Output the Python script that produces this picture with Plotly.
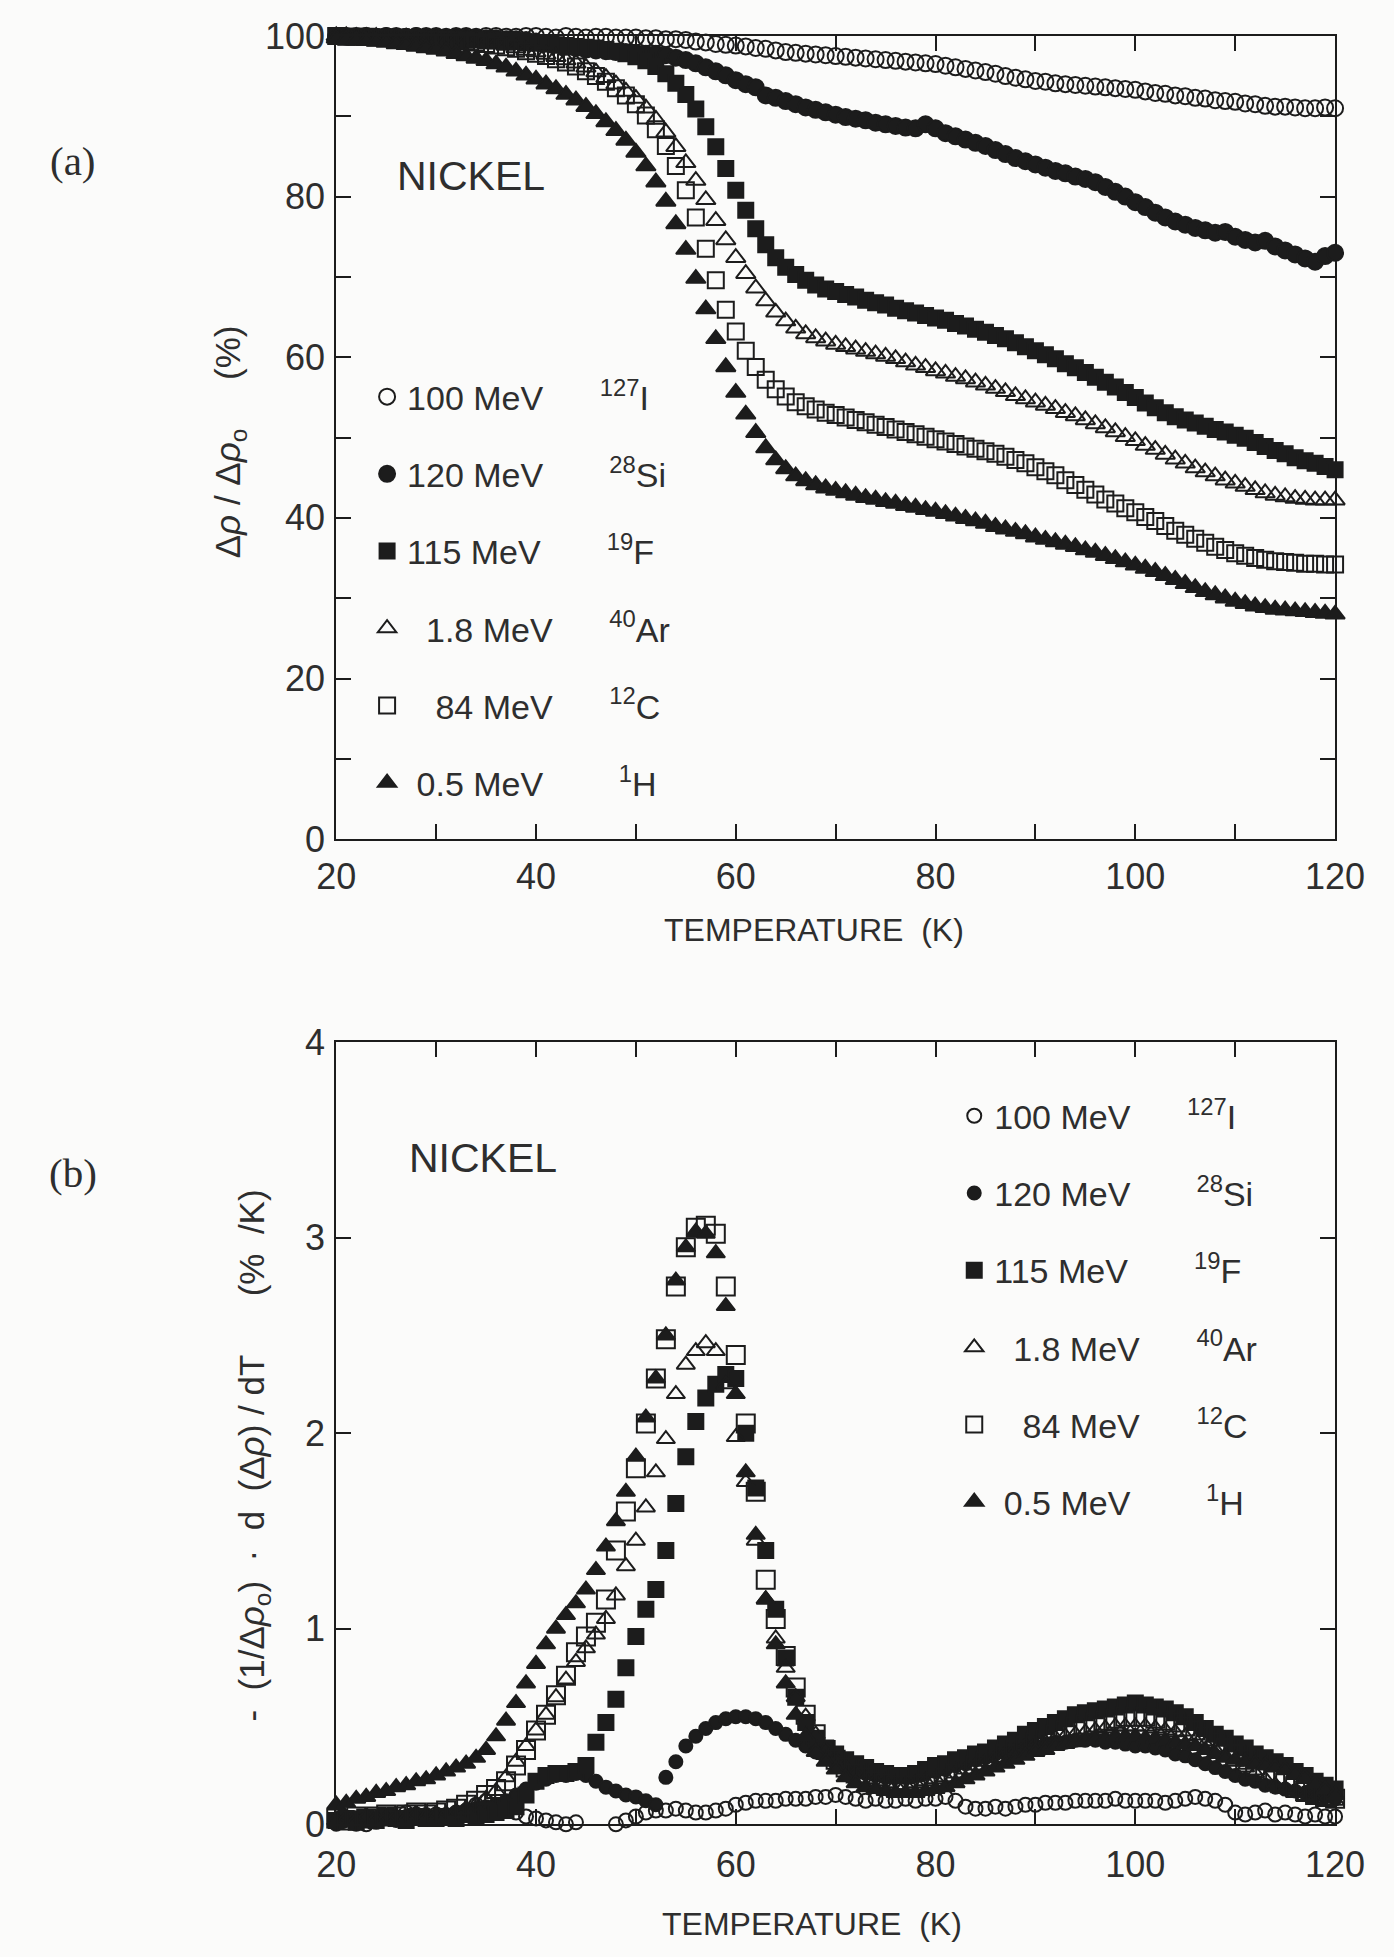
import plotly.graph_objects as go

# ---------------------------------------------------------------------------
# Isochronal recovery of irradiated nickel: measurement grid (K)
# ---------------------------------------------------------------------------
temperature_k = list(range(20, 121))

series_labels = [
    "100 MeV", "120 MeV", "115 MeV", "1.8 MeV", "84 MeV", "0.5 MeV",
]
isotope_labels = ["127", "28", "19", "40", "12", "1"]
element_labels = ["I", "Si", "F", "Ar", "C", "H"]

# ---- (a) remaining damage  Δρ/Δρ0  (%) -----------------------------------
frac_I127 = [
    100.0, 99.9, 100.0, 100.0, 99.9, 100.0, 100.0, 99.9, 100.0, 100.0,
    100.0, 99.9, 100.0, 100.0, 99.9, 100.0, 100.0, 99.9, 99.9, 100.0,
    100.0, 99.9, 99.8, 100.0, 99.9, 99.8, 99.9, 99.9, 99.8, 99.8,
    99.8, 99.7, 99.7, 99.6, 99.6, 99.5, 99.3, 99.2, 99.0, 98.9,
    98.8, 98.7, 98.5, 98.4, 98.2, 98.0, 97.9, 97.8, 97.7, 97.6,
    97.5, 97.4, 97.3, 97.2, 97.1, 97.0, 96.9, 96.8, 96.7, 96.6,
    96.5, 96.3, 96.1, 95.9, 95.7, 95.5, 95.3, 95.0, 94.8, 94.6,
    94.4, 94.3, 94.1, 94.0, 93.9, 93.8, 93.7, 93.6, 93.5, 93.4,
    93.3, 93.1, 92.9, 92.8, 92.6, 92.5, 92.3, 92.2, 92.0, 91.9,
    91.8, 91.6, 91.5, 91.3, 91.2, 91.2, 91.1, 91.0, 91.0, 91.1, 91.0,
]
frac_Si28 = [
    100.0, 100.0, 99.9, 100.0, 99.9, 100.0, 99.9, 99.9, 100.0, 99.9,
    99.9, 99.8, 99.9, 99.8, 99.8, 99.7, 99.7, 99.6, 99.6, 99.5,
    99.3, 99.1, 98.9, 98.7, 98.5, 98.3, 98.2, 98.1, 98.0, 98.0,
    97.9, 97.8, 97.8, 97.6, 97.3, 97.0, 96.6, 96.1, 95.6, 95.1,
    94.5, 94.0, 93.6, 92.6, 92.3, 91.9, 91.5, 91.1, 90.8, 90.5,
    90.2, 89.9, 89.7, 89.5, 89.2, 89.0, 88.8, 88.6, 88.5, 89.0,
    88.5, 87.9, 87.5, 87.1, 86.7, 86.3, 85.8, 85.3, 84.8, 84.4,
    84.0, 83.6, 83.2, 82.9, 82.5, 82.2, 81.8, 81.2, 80.6, 80.0,
    79.3, 78.7, 78.0, 77.4, 76.9, 76.5, 76.1, 75.8, 75.5, 75.6,
    75.0, 74.6, 74.3, 74.5, 73.8, 73.3, 72.8, 72.3, 71.9, 72.6, 73.0,
]
frac_F19 = [
    100.0, 99.9, 99.9, 99.8, 99.8, 99.8, 99.7, 99.7, 99.7, 99.6,
    99.6, 99.6, 99.5, 99.5, 99.5, 99.4, 99.4, 99.3, 99.3, 99.2,
    99.1, 99.0, 98.9, 98.8, 98.7, 98.6, 98.5, 98.3, 98.1, 97.8,
    97.4, 96.9, 96.2, 95.3, 94.1, 92.7, 90.9, 88.7, 86.2, 83.5,
    80.8, 78.3, 76.0, 74.0, 72.4, 71.2, 70.3, 69.6, 69.0, 68.5,
    68.2, 67.8, 67.5, 67.1, 66.8, 66.5, 66.1, 65.8, 65.5, 65.2,
    64.9, 64.6, 64.2, 63.9, 63.5, 63.1, 62.7, 62.3, 61.8, 61.3,
    60.8, 60.3, 59.8, 59.2, 58.7, 58.1, 57.5, 56.9, 56.3, 55.6,
    55.0, 54.3, 53.7, 53.1, 52.6, 52.2, 51.8, 51.4, 51.0, 50.7,
    50.3, 49.9, 49.4, 48.9, 48.4, 48.0, 47.5, 47.1, 46.8, 46.4, 46.0,
]
frac_Ar40 = [
    100.0, 100.0, 99.9, 99.9, 99.9, 99.8, 99.8, 99.8, 99.7, 99.7,
    99.6, 99.6, 99.5, 99.4, 99.3, 99.2, 99.0, 98.8, 98.5, 98.2,
    98.0, 97.7, 97.4, 97.0, 96.6, 96.1, 95.5, 94.8, 94.0, 93.1,
    92.2, 91.0, 89.6, 88.0, 86.2, 84.2, 82.0, 79.6, 77.0, 74.6,
    72.4, 70.4, 68.6, 67.0, 65.6, 64.5, 63.6, 62.9, 62.4, 62.0,
    61.6, 61.3, 61.0, 60.7, 60.4, 60.1, 59.8, 59.4, 59.0, 58.7,
    58.3, 58.0, 57.6, 57.3, 56.9, 56.5, 56.1, 55.7, 55.2, 54.8,
    54.4, 54.0, 53.6, 53.1, 52.7, 52.2, 51.7, 51.2, 50.7, 50.1,
    49.6, 49.0, 48.5, 47.9, 47.3, 46.8, 46.2, 45.7, 45.2, 44.7,
    44.3, 43.9, 43.5, 43.1, 42.8, 42.6, 42.4, 42.3, 42.2, 42.2, 42.2,
]
frac_C12 = [
    100.0, 99.9, 99.9, 99.9, 99.8, 99.8, 99.8, 99.7, 99.7, 99.6,
    99.6, 99.5, 99.4, 99.3, 99.2, 99.0, 98.8, 98.6, 98.4, 98.1,
    97.8, 97.5, 97.1, 96.7, 96.2, 95.6, 95.0, 94.3, 93.5, 92.6,
    91.5, 90.1, 88.4, 86.3, 83.8, 80.8, 77.4, 73.5, 69.6, 65.9,
    63.2, 60.8, 58.8, 57.2, 56.0, 55.1, 54.4, 53.9, 53.5, 53.1,
    52.8, 52.5, 52.2, 51.9, 51.6, 51.3, 51.0, 50.7, 50.4, 50.1,
    49.8, 49.5, 49.2, 48.9, 48.6, 48.3, 48.0, 47.6, 47.2, 46.8,
    46.3, 45.8, 45.3, 44.7, 44.1, 43.5, 42.9, 42.3, 41.8, 41.2,
    40.7, 40.1, 39.6, 39.0, 38.4, 37.9, 37.4, 36.9, 36.4, 36.0,
    35.6, 35.3, 35.0, 34.8, 34.6, 34.5, 34.4, 34.3, 34.3, 34.2, 34.2,
]
frac_H1 = [
    99.7, 99.6, 99.5, 99.4, 99.3, 99.2, 99.0, 98.9, 98.7, 98.5,
    98.3, 98.1, 97.8, 97.5, 97.2, 96.9, 96.5, 96.1, 95.6, 95.1,
    94.6, 94.0, 93.4, 92.7, 92.0, 91.2, 90.3, 89.3, 88.2, 87.0,
    85.5, 83.8, 81.8, 79.4, 76.6, 73.4, 69.8, 66.0, 62.3, 58.8,
    55.6, 52.9, 50.6, 48.7, 47.2, 46.1, 45.2, 44.6, 44.1, 43.7,
    43.4, 43.1, 42.8, 42.5, 42.3, 42.0, 41.8, 41.5, 41.3, 41.0,
    40.8, 40.5, 40.2, 39.9, 39.6, 39.3, 38.9, 38.6, 38.3, 38.0,
    37.6, 37.3, 37.0, 36.7, 36.4, 36.0, 35.7, 35.3, 34.9, 34.5,
    34.1, 33.7, 33.3, 32.8, 32.3, 31.8, 31.3, 30.8, 30.4, 30.0,
    29.6, 29.3, 29.0, 28.8, 28.6, 28.5, 28.4, 28.3, 28.2, 28.1, 28.0,
]

# ---- (b) recovery rate  -(1/Δρ0) d(Δρ)/dT  (%/K) ---------------------------
rate_I127 = [
    0.02, -0.01, 0.03, 0.00, 0.02, 0.04, 0.03, 0.06, 0.05, 0.03,
    0.05, 0.04, 0.06, 0.07, 0.10, 0.12, 0.10, 0.08, 0.06, 0.04,
    0.03, 0.02, 0.01, 0.00, 0.01, -0.01, -0.02, -0.03, 0.00, 0.02,
    0.04, 0.06, 0.07, 0.07, 0.08, 0.07, 0.06, 0.06, 0.07, 0.08,
    0.10, 0.11, 0.12, 0.12, 0.12, 0.13, 0.13, 0.13, 0.14, 0.14,
    0.15, 0.14, 0.13, 0.12, 0.13, 0.12, 0.12, 0.13, 0.12, 0.13,
    0.13, 0.14, 0.12, 0.09, 0.08, 0.08, 0.09, 0.08, 0.09, 0.10,
    0.10, 0.11, 0.11, 0.11, 0.12, 0.12, 0.12, 0.12, 0.13, 0.12,
    0.12, 0.12, 0.12, 0.11, 0.12, 0.13, 0.14, 0.13, 0.12, 0.10,
    0.06, 0.05, 0.06, 0.07, 0.05, 0.06, 0.05, 0.04, 0.05, 0.04, 0.04,
]
rate_Si28 = [
    0.00, 0.02, 0.00, 0.03, 0.01, 0.03, 0.02, 0.04, 0.03, 0.05,
    0.04, 0.05, 0.06, 0.07, 0.08, 0.09, 0.10, 0.12, 0.15, 0.18,
    0.21, 0.23, 0.25, 0.25, 0.26, 0.25, 0.22, 0.19, 0.17, 0.15,
    0.14, 0.12, 0.10, 0.24, 0.32, 0.40, 0.45, 0.49, 0.52, 0.54,
    0.55, 0.55, 0.54, 0.52, 0.49, 0.46, 0.43, 0.40, 0.37, 0.34,
    0.31, 0.29, 0.27, 0.26, 0.25, 0.24, 0.24, 0.24, 0.25, 0.26,
    0.27, 0.28, 0.30, 0.31, 0.33, 0.34, 0.36, 0.37, 0.38, 0.39,
    0.40, 0.41, 0.42, 0.42, 0.43, 0.43, 0.43, 0.42, 0.42, 0.41,
    0.40, 0.40, 0.39, 0.38, 0.36, 0.35, 0.33, 0.31, 0.29, 0.27,
    0.25, 0.23, 0.22, 0.20, 0.19, 0.18, 0.17, 0.16, 0.15, 0.14, 0.13,
]
rate_F19 = [
    0.02, 0.03, 0.01, 0.03, 0.02, 0.04, 0.03, 0.02, 0.04, 0.03,
    0.03, 0.04, 0.03, 0.05, 0.04, 0.05, 0.06, 0.07, 0.09, 0.15,
    0.22, 0.25, 0.26, 0.26, 0.27, 0.30, 0.42, 0.52, 0.64, 0.80,
    0.96, 1.10, 1.20, 1.40, 1.64, 1.88, 2.06, 2.18, 2.25, 2.30,
    2.28, 2.00, 1.72, 1.40, 1.10, 0.85, 0.65, 0.52, 0.44, 0.39,
    0.36, 0.33, 0.31, 0.29, 0.27, 0.26, 0.25, 0.25, 0.26, 0.28,
    0.30, 0.31, 0.33, 0.34, 0.36, 0.37, 0.39, 0.41, 0.43, 0.46,
    0.48, 0.50, 0.52, 0.54, 0.56, 0.57, 0.58, 0.59, 0.60, 0.61,
    0.62, 0.61, 0.60, 0.59, 0.57, 0.55, 0.52, 0.49, 0.46, 0.44,
    0.41, 0.39, 0.36, 0.34, 0.32, 0.30, 0.27, 0.25, 0.22, 0.20, 0.18,
]
rate_Ar40 = [
    0.02, 0.03, 0.02, 0.04, 0.03, 0.03, 0.04, 0.03, 0.05, 0.04,
    0.05, 0.05, 0.06, 0.08, 0.10, 0.13, 0.17, 0.24, 0.32, 0.40,
    0.48, 0.56, 0.65, 0.74, 0.83, 0.90, 0.97, 1.05, 1.17, 1.32,
    1.45, 1.62, 1.80, 1.97, 2.20, 2.35, 2.42, 2.46, 2.42, 2.25,
    1.98, 1.75, 1.45, 1.15, 0.95, 0.80, 0.65, 0.55, 0.46, 0.38,
    0.33, 0.29, 0.26, 0.23, 0.22, 0.21, 0.20, 0.20, 0.21, 0.22,
    0.23, 0.24, 0.26, 0.28, 0.30, 0.32, 0.34, 0.36, 0.38, 0.40,
    0.41, 0.42, 0.44, 0.45, 0.46, 0.47, 0.48, 0.49, 0.50, 0.50,
    0.50, 0.50, 0.49, 0.48, 0.47, 0.45, 0.43, 0.41, 0.38, 0.35,
    0.32, 0.29, 0.26, 0.23, 0.20, 0.18, 0.16, 0.14, 0.13, 0.12, 0.12,
]
rate_C12 = [
    0.03, 0.02, 0.04, 0.03, 0.04, 0.05, 0.04, 0.05, 0.06, 0.05,
    0.06, 0.07, 0.08, 0.10, 0.12, 0.15, 0.18, 0.22, 0.30, 0.38,
    0.48, 0.56, 0.66, 0.76, 0.88, 0.96, 1.03, 1.15, 1.40, 1.60,
    1.82, 2.05, 2.28, 2.48, 2.75, 2.95, 3.05, 3.06, 3.02, 2.75,
    2.40, 2.05, 1.70, 1.25, 1.05, 0.86, 0.70, 0.56, 0.46, 0.38,
    0.33, 0.29, 0.26, 0.24, 0.22, 0.21, 0.20, 0.20, 0.20, 0.21,
    0.22, 0.24, 0.26, 0.28, 0.30, 0.32, 0.34, 0.36, 0.38, 0.40,
    0.42, 0.44, 0.46, 0.48, 0.50, 0.51, 0.52, 0.53, 0.54, 0.55,
    0.55, 0.55, 0.54, 0.53, 0.52, 0.50, 0.48, 0.45, 0.42, 0.39,
    0.36, 0.33, 0.30, 0.27, 0.24, 0.21, 0.19, 0.17, 0.15, 0.14, 0.13,
]
rate_H1 = [
    0.10, 0.11, 0.13, 0.14, 0.16, 0.17, 0.19, 0.20, 0.22, 0.23,
    0.25, 0.27, 0.29, 0.31, 0.34, 0.38, 0.45, 0.53, 0.62, 0.72,
    0.82, 0.92, 1.00, 1.07, 1.13, 1.20, 1.30, 1.42, 1.55, 1.70,
    1.88, 2.08, 2.28, 2.50, 2.78, 2.95, 3.03, 3.02, 2.92, 2.65,
    2.20, 1.80, 1.48, 1.15, 0.92, 0.72, 0.56, 0.45, 0.37, 0.32,
    0.28, 0.24, 0.21, 0.19, 0.18, 0.17, 0.16, 0.16, 0.16, 0.17,
    0.18, 0.19, 0.21, 0.23, 0.25, 0.27, 0.29, 0.31, 0.33, 0.35,
    0.37, 0.38, 0.40, 0.41, 0.42, 0.43, 0.44, 0.44, 0.45, 0.45,
    0.45, 0.44, 0.44, 0.43, 0.42, 0.41, 0.40, 0.38, 0.36, 0.34,
    0.33, 0.32, 0.31, 0.30, 0.29, 0.28, 0.26, 0.24, 0.21, 0.18, 0.15,
]

fraction_series = [frac_I127, frac_Si28, frac_F19, frac_Ar40, frac_C12, frac_H1]
rate_series = [rate_I127, rate_Si28, rate_F19, rate_Ar40, rate_C12, rate_H1]

# ---------------------------------------------------------------------------
# Styling
# ---------------------------------------------------------------------------
INK = "#1c1c1c"
TEXT = "#2e2e2e"
BG = "#fbfbfa"
FONT = "Liberation Sans Narrow, Liberation Sans, Arial, sans-serif"
SANS = "Liberation Sans, Arial, sans-serif"
SERIF = "Liberation Serif, Times New Roman, serif"

symbols = ["circle-open", "circle", "square", "triangle-up-open", "square-open", "triangle-up"]
sizes_a = [16, 16, 15, 17, 16, 17]
sizes_b = [14, 13, 15, 16, 18, 16]

# label text: energy, padded so the isotope column lines up
energy_pad = ["", "", "", "\u00a0\u00a0", "\u00a0\u00a0\u00a0", "\u00a0"]
iso_pad = [6, 7, 7, 6, 6, 8]


def legend_name(i):
    return (energy_pad[i] + series_labels[i] + "\u00a0" * iso_pad[i]
            + "<sup>" + isotope_labels[i] + "</sup>" + element_labels[i])


fig = go.Figure()

for i, vals in enumerate(fraction_series):
    fig.add_trace(go.Scatter(
        x=temperature_k, y=vals, mode="markers", name=legend_name(i),
        legend="legend", legendgroup=f"a{i}", xaxis="x", yaxis="y",
        cliponaxis=False,
        marker=dict(symbol=symbols[i], size=sizes_a[i], color=INK,
                    line=dict(color=INK, width=2)),
    ))

for i, vals in enumerate(rate_series):
    fig.add_trace(go.Scatter(
        x=temperature_k, y=vals, mode="markers", name=legend_name(i),
        legend="legend2", legendgroup=f"b{i}", xaxis="x2", yaxis="y2",
        cliponaxis=False,
        marker=dict(symbol=symbols[i], size=sizes_b[i], color=INK,
                    line=dict(color=INK, width=2)),
    ))

W, H = 1394, 1957


def fx(x):
    return x / W


def fy(y):
    return 1 - y / H


x_dom = [fx(328), fx(1364)]
ya_dom = [fy(836.7), fy(16.3)]
yb_dom = [fy(1842.9), fy(1043.9)]

axis_common = dict(
    showline=True, linecolor=INK, linewidth=2, mirror="ticks",
    ticks="inside", ticklen=15, tickwidth=2, tickcolor=INK,
    showgrid=False, zeroline=False,
    tickfont=dict(family=FONT, size=36, color=TEXT),
)
minor_ticks = dict(ticks="inside", ticklen=15, tickwidth=2, tickcolor=INK, dtick=10)

layout_axes = dict(
    xaxis=dict(domain=x_dom, anchor="y", range=[20, 120], dtick=20, tick0=20,
               minor=minor_ticks, ticklabelstandoff=5, ticklabeloverflow="allow",
               **axis_common),
    yaxis=dict(domain=ya_dom, anchor="x", range=[0, 100], dtick=20,
               minor=minor_ticks, ticklabelstandoff=2, **axis_common),
    xaxis2=dict(domain=x_dom, anchor="y2", range=[20, 120], dtick=20, tick0=20,
                minor=minor_ticks, ticklabelstandoff=8, ticklabeloverflow="allow",
                **axis_common),
    yaxis2=dict(domain=yb_dom, anchor="x2", range=[0, 4], dtick=1,
                ticklabelstandoff=2, **axis_common),
)

annotations = []


def note(text, x, y, size, family=FONT, angle=0):
    annotations.append(dict(
        text=text, x=fx(x), y=fy(y), xref="paper", yref="paper",
        xanchor="center", yanchor="middle", showarrow=False, textangle=angle,
        font=dict(family=family, size=size, color=TEXT),
    ))


NB = "\u00a0"
note("(a)", 55, 144, 41, family=SERIF)
note("(b)", 55, 1177.6, 41, family=SERIF)
note("NICKEL", 468, 159.2, 41, family=SANS)
note("NICKEL", 480, 1162.2, 41, family=SANS)
note("TEMPERATURE" + NB * 2 + "(K)", 824, 929.6, 32)
note("TEMPERATURE" + NB * 2 + "(K)", 821, 1945, 32)
note("Δ<i>ρ</i>" + NB + "/" + NB + "Δ<i>ρ</i><sub>o</sub>" + NB * 5 + "(%)",
     217.5, 430.6, 35, angle=-90)
note("-" + NB * 2 + "(1/Δ<i>ρ</i><sub>o</sub>)" + NB * 2 + "·" + NB * 2 + "d" + NB * 2
     + "(Δ<i>ρ</i>)" + NB + "/" + NB + "dT" + NB * 6 + "(%" + NB * 2 + "/K)",
     243, 1466, 35, angle=-90)

legend_common = dict(
    bgcolor="rgba(0,0,0,0)", borderwidth=0, tracegroupgap=30,
    font=dict(family=FONT, size=34, color=TEXT),
    xanchor="left", yanchor="top", itemclick=False, itemdoubleclick=False,
)

fig.update_layout(
    width=W, height=H, autosize=False,
    margin=dict(l=0, r=0, t=0, b=0),
    paper_bgcolor=BG, plot_bgcolor=BG,
    showlegend=True,
    legend=dict(x=fx(360), y=fy(355.5), **legend_common),
    legend2=dict(x=fx(969), y=fy(1090), **legend_common),
    annotations=annotations,
    **layout_axes,
)

fig.write_html("out.html")
